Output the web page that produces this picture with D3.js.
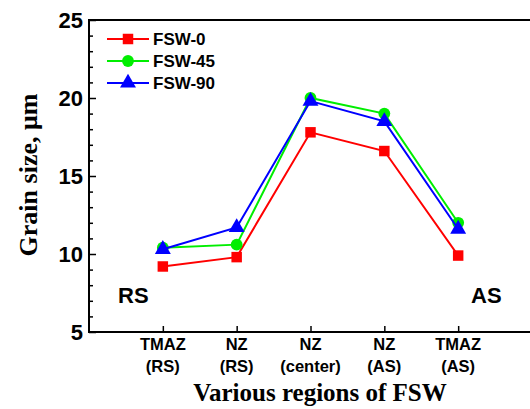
<!DOCTYPE html>
<html><head><meta charset="utf-8">
<script src="https://cdn.jsdelivr.net/npm/d3@7"></script>
<style>body{margin:0;background:#fff}svg{display:block}</style>
</head><body>
<script>
const categories = [["TMAZ","(RS)"],["NZ","(RS)"],["NZ","(center)"],["NZ","(AS)"],["TMAZ","(AS)"]];
const fsw0  = [9.2, 9.8, 17.8, 16.6, 9.9];
const fsw45 = [10.4, 10.6, 20.0, 19.0, 12.0];
const fsw90 = [10.3, 11.7, 19.8, 18.5, 11.6];
const seriesNames = ["FSW-0","FSW-45","FSW-90"];
const yTicks = [5,10,15,20,25];

const W=530,H=409;
const m={left:89,top:20,right:532,bottom:332};
const svg=d3.select("body").append("svg").attr("width",W).attr("height",H);
const x=d3.scaleLinear().domain([0,6]).range([m.left,m.right]);
const y=d3.scaleLinear().domain([5,25]).range([m.bottom,m.top]);

const series=[
 {name:seriesNames[0],vals:fsw0,color:"#ff0000",shape:d3.symbolSquare,size:110},
 {name:seriesNames[1],vals:fsw45,color:"#00ee00",shape:d3.symbolCircle,size:110},
 {name:seriesNames[2],vals:fsw90,color:"#0000ff",shape:d3.symbolTriangle,size:110}
];

// frame
svg.append("rect").attr("x",m.left).attr("y",m.top).attr("width",m.right-m.left).attr("height",m.bottom-m.top)
 .attr("fill","none").attr("stroke","#000").attr("stroke-width",2);

// y axis
const ya=svg.append("g").attr("transform",`translate(${m.left},0)`)
 .call(d3.axisRight(y).tickValues(d3.range(5,26,1)).tickSize(0).tickFormat(""));
ya.select(".domain").remove();
ya.selectAll(".tick line").attr("x2",d=>d%5===0?7:4).attr("stroke","#000").attr("stroke-width",1.5);
svg.append("g").selectAll("text").data(yTicks).join("text")
 .attr("x",m.left-6).attr("y",d=>y(d)+8).attr("text-anchor","end")
 .attr("font-family","Liberation Sans, Arial, sans-serif").attr("font-weight","bold").attr("font-size",22)
 .text(d=>d);

// x axis ticks
const xa=svg.append("g").attr("transform",`translate(0,${m.bottom})`)
 .call(d3.axisTop(x).tickValues([1,2,3,4,5]).tickSize(6).tickFormat(""));
xa.select(".domain").remove();
xa.selectAll(".tick line").attr("stroke","#000").attr("stroke-width",1.5);
const xl=svg.append("g").selectAll("g").data(categories).join("g");
xl.append("text").attr("x",(d,i)=>x(i+1)).attr("y",350).attr("text-anchor","middle")
 .attr("font-family","Liberation Sans, Arial, sans-serif").attr("font-weight","bold").attr("font-size",16.5).text(d=>d[0]);
xl.append("text").attr("x",(d,i)=>x(i+1)).attr("y",372).attr("text-anchor","middle")
 .attr("font-family","Liberation Sans, Arial, sans-serif").attr("font-weight","bold").attr("font-size",16.5).text(d=>d[1]);

// axis titles
svg.append("text").attr("x",320).attr("y",401).attr("text-anchor","middle")
 .attr("font-family","Liberation Serif, Times New Roman, serif").attr("font-weight","bold").attr("font-size",25)
 .text("Various regions of FSW");
svg.append("text").attr("transform","translate(37,175) rotate(-90)").attr("text-anchor","middle")
 .attr("font-family","Liberation Serif, Times New Roman, serif").attr("font-weight","bold").attr("font-size",26)
 .text("Grain size, μm");

// RS / AS
svg.append("text").attr("x",118).attr("y",303).attr("font-family","Liberation Sans, Arial, sans-serif")
 .attr("font-weight","bold").attr("font-size",22).text("RS");
svg.append("text").attr("x",471).attr("y",303).attr("font-family","Liberation Sans, Arial, sans-serif")
 .attr("font-weight","bold").attr("font-size",22).text("AS");

// lines and markers
const line=d3.line().x((d,i)=>x(i+1)).y(d=>y(d));
series.forEach(s=>{
 svg.append("path").datum(s.vals).attr("d",line).attr("fill","none").attr("stroke",s.color).attr("stroke-width",2);
 svg.append("g").selectAll("path").data(s.vals).join("path")
  .attr("transform",(d,i)=>`translate(${x(i+1)},${y(d)})`)
  .attr("d",d3.symbol().type(s.shape).size(s.size)).attr("fill",s.color);
});

// legend
const lg=svg.append("g");
series.forEach((s,i)=>{
 const yy=39+i*22;
 lg.append("line").attr("x1",107).attr("x2",149).attr("y1",yy).attr("y2",yy).attr("stroke",s.color).attr("stroke-width",2);
 lg.append("path").attr("transform",`translate(128,${yy})`).attr("d",d3.symbol().type(s.shape).size(s.size)).attr("fill",s.color);
 lg.append("text").attr("x",153).attr("y",yy+6).attr("font-family","Liberation Sans, Arial, sans-serif")
  .attr("font-weight","bold").attr("font-size",17).text(s.name);
});
</script>
</body></html>
